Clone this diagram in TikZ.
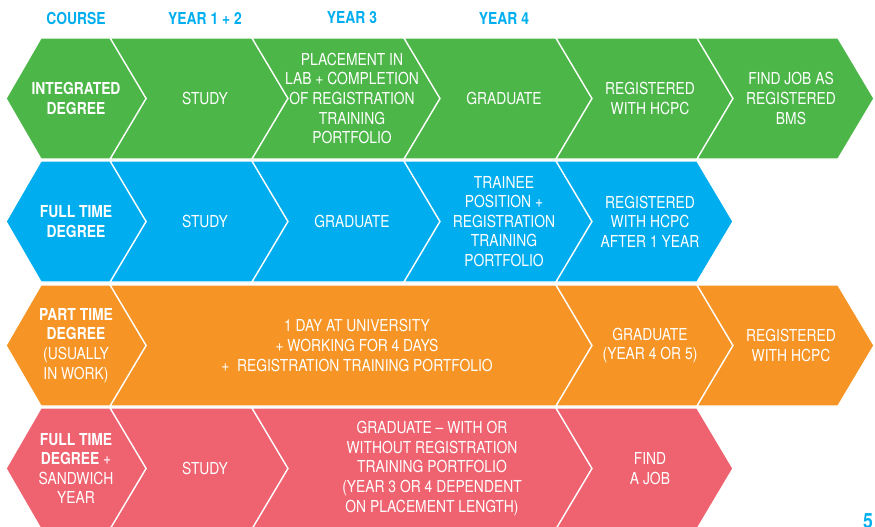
\documentclass[tikz,border=0pt]{standalone}
\usepackage{fontspec}
\setmainfont{TeX Gyre Heros}[FakeStretch=0.84]
\usepackage{xcolor}
\usetikzlibrary{positioning}
\definecolor{igreen}{RGB}{76,183,72}
\definecolor{iblue}{RGB}{0,174,239}
\definecolor{iorange}{RGB}{246,149,38}
\definecolor{ipink}{RGB}{239,99,112}

\begin{document}
\begin{tikzpicture}[x=1pt, y=-1pt,
    chev/.style={draw=white, line width=1.3pt},
    lbl/.style={text=white, align=center, inner sep=0pt, font=\fontsize{16.5}{19.6}\selectfont},
    crs/.style={lbl, font=\fontsize{16.5}{19.6}\selectfont\bfseries},
    head/.style={text=iblue, inner sep=0pt, font=\fontsize{16.5}{19.6}\selectfont\bfseries}]
                        \useasboundingbox (0,0) rectangle (875,527);

                        % chevrons
                        \foreach \xa/\xb/\yt/\c in {110/252/38/igreen, 252/404/38/igreen, 404/556/38/igreen, 556/697/38/igreen, 697/838/38/igreen,
                            110/252/161/iblue, 252/404/161/iblue, 404/556/161/iblue, 556/697/161/iblue,
                            110/556/285/iorange, 556/697/285/iorange, 697/838/285/iorange,
                            110/252/408/ipink, 252/556/408/ipink, 556/697/408/ipink}
                        \filldraw[chev, fill=\c] (\xa,\yt) -- (\xb,\yt) -- ++(36,60.5) -- ++(-36,60.5) -- (\xa,\yt+121) -- ++(36,-60.5) -- cycle;

                        % course hexagons
                        \foreach \yt/\c in {38/igreen, 161/iblue, 285/iorange, 408/ipink}
                        \filldraw[chev, fill=\c] (41,\yt) -- (110,\yt) -- ++(36,60.5) -- ++(-36,60.5) -- (41,\yt+121) -- ++(-35,-60.5) -- cycle;

                        % headings
                        \node[head] (hCourse) at (76, 18) {COURSE};
                        \node[head] (hY12) at (205, 18) {YEAR 1 + 2};
                        \node[head] (hY3) at (352, 18) {YEAR 3};
                        \node[head] (hY4) at (504, 18) {YEAR 4};

                        % integrated degree
                        \node[crs] (ig0) at (76, 98.5) {INTEGRATED\\DEGREE};
                        \node[lbl] (ig1) at (205, 98.5) {STUDY};
                        \node[lbl] (ig2) at (352, 98.5) {PLACEMENT IN\\LAB + COMPLETION\\OF REGISTRATION\\TRAINING\\PORTFOLIO};
                        \node[lbl] (ig3) at (504, 98.5) {GRADUATE};
                        \node[lbl] (ig4) at (650, 98.5) {REGISTERED\\WITH HCPC};
                        \node[lbl] (ig5) at (791, 98.5) {FIND JOB AS\\REGISTERED\\BMS};

                        % full time degree
                        \node[crs] (ft0) at (76, 221.5) {FULL TIME\\DEGREE};
                        \node[lbl] (ft1) at (205, 221.5) {STUDY};
                        \node[lbl] (ft2) at (352, 221.5) {GRADUATE};
                        \node[lbl] (ft3) at (504, 221.5) {TRAINEE\\POSITION +\\REGISTRATION\\TRAINING\\PORTFOLIO};
                        \node[lbl] (ft4) at (650, 221.5) {REGISTERED\\WITH HCPC\\AFTER 1 YEAR};

                        % part time degree
                        \node[lbl] (pt0) at (76, 345.5) {\textbf{PART TIME}\\\textbf{DEGREE}\\(USUALLY\\IN WORK)};
                        \node[lbl] (pt1) at (357, 345.5) {1 DAY AT UNIVERSITY\\+ WORKING FOR 4 DAYS\\+ \ REGISTRATION TRAINING PORTFOLIO};
                        \node[lbl] (pt2) at (650, 345.5) {GRADUATE\\(YEAR 4 OR 5)};
                        \node[lbl] (pt3) at (791, 345.5) {REGISTERED\\WITH HCPC};

                        % sandwich year
                        \node[lbl] (sw0) at (76, 468.5) {\textbf{FULL TIME}\\\textbf{DEGREE} +\\SANDWICH\\YEAR};
                        \node[lbl] (sw1) at (205, 468.5) {STUDY};
                        \node[lbl] (sw2) at (432, 468.5) {GRADUATE -- WITH OR\\WITHOUT REGISTRATION\\TRAINING PORTFOLIO\\(YEAR 3 OR 4 DEPENDENT\\ON PLACEMENT LENGTH)};
                        \node[lbl] (sw3) at (650, 468.5) {FIND\\A JOB};

                        \node[head, anchor=north west, font=\fontsize{21}{22}\selectfont\bfseries] (pg) at (863, 513) {5};
                    \end{tikzpicture}
\end{document}
